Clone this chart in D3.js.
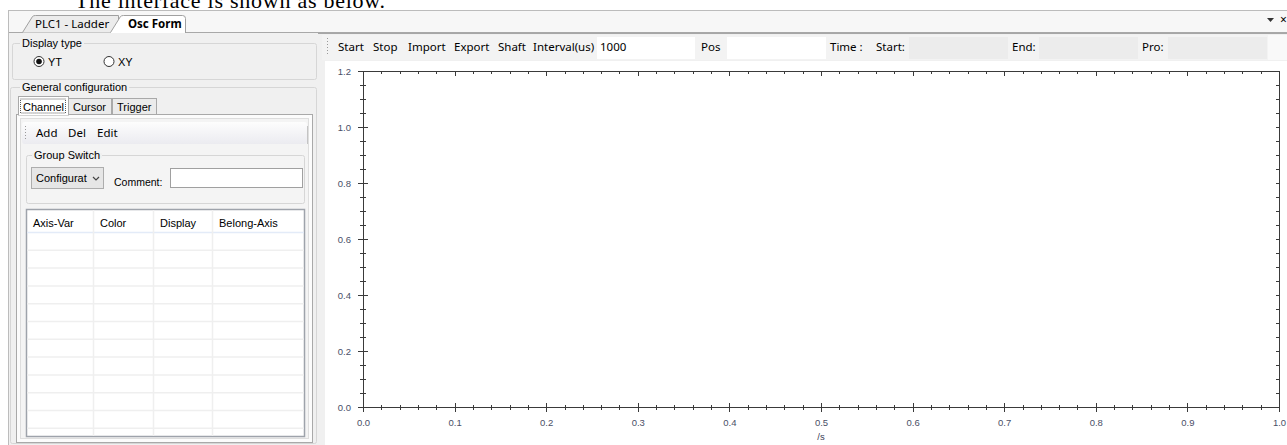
<!DOCTYPE html>
<html lang="en">
<head>
  <meta charset="UTF-8">
  <title>Osc Form</title>
  <style>
    body, html { margin: 0; padding: 0; background: #fff; }
    svg { display: block; }
    .ui { font-family: "Liberation Sans", Arial, sans-serif; font-size: 11px; fill: #000; }
    .tb { font-family: "Noto Sans", "Open Sans", sans-serif; font-size: 11px; fill: #000; }
    .axis .tick text { font-family: "Liberation Sans", Arial, sans-serif; font-size: 9.5px; fill: #4a4f66; }
    .axis path, .axis line { stroke: #3a3a3a; shape-rendering: crispEdges; }
  </style>
</head>
<body>
  <svg id="svg" width="1287" height="445"></svg>

  <script src="https://cdn.jsdelivr.net/npm/d3@7"></script>
  <script>
    // chart values
    const xTickValues = [0, 0.1, 0.2, 0.3, 0.4, 0.5, 0.6, 0.7, 0.8, 0.9, 1.0];
    const xTickLabels = ['0.0', '0.1', '0.2', '0.3', '0.4', '0.5', '0.6', '0.7', '0.8', '0.9', '1.0'];
    const yTickValues = [0, 0.2, 0.4, 0.6, 0.8, 1.0, 1.2];
    const yTickLabels = ['0.0', '0.2', '0.4', '0.6', '0.8', '1.0', '1.2'];
    const xUnit = '/s';

    // interface texts
    const caption = 'The interface is shown as below.';
    const docTabs = ['PLC1 - Ladder', 'Osc Form'];
    const displayTypes = ['YT', 'XY'];
    const configTabs = ['Channel', 'Cursor', 'Trigger'];
    const channelTools = ['Add', 'Del', 'Edit'];
    const tableColumns = ['Axis-Var', 'Color', 'Display', 'Belong-Axis'];
    const tableRowCount = 11;
    const toolbarItems = ['Start', 'Stop', 'Import', 'Export', 'Shaft', 'Interval(us)'];
    const intervalValue = '1000';
    const timeFields = ['Start:', 'End:', 'Pro:'];

    const svg = d3.select('#svg');

    // caption above the window (cut by the top edge, as in the screenshot)
    svg.append('text')
      .attr('x', 75).attr('y', 8)
      .attr('textLength', 310)
      .style('font-family', '"Liberation Serif", "Times New Roman", serif')
      .style('font-size', '22px')
      .text(caption);

    // window frame
    svg.append('rect')
      .attr('x', 8.5).attr('y', 10.5).attr('width', 1290).attr('height', 440)
      .attr('fill', '#f0f0f0').attr('stroke', '#bcbcbc');

    // tab strip
    svg.append('rect')
      .attr('x', 9).attr('y', 11).attr('width', 1278).attr('height', 21)
      .attr('fill', '#f7f7f7');
    svg.append('line')
      .attr('x1', 9).attr('x2', 1287).attr('y1', 32.5).attr('y2', 32.5)
      .attr('stroke', '#a8a8a8');

    // inactive tab
    svg.append('path')
      .attr('d', 'M22.5,32.5 L32.5,16.5 Q33.5,15.5 35.5,15.5 L118.5,15.5 L118.5,32.5')
      .attr('fill', '#ececec').attr('stroke', '#a0a0a0');
    // active tab
    svg.append('path')
      .attr('d', 'M110.5,32.5 L120.5,16.5 Q121.5,15.5 123.5,15.5 L182.5,15.5 Q185.5,15.5 185.5,18.5 L185.5,33')
      .attr('fill', '#fff').attr('stroke', '#a0a0a0');
    svg.append('line')
      .attr('x1', 111).attr('x2', 185).attr('y1', 32.5).attr('y2', 32.5)
      .attr('stroke', '#fff');

    svg.append('text').attr('class', 'tb')
      .attr('x', 35).attr('y', 28).style('font-size', '11.5px')
      .text(docTabs[0]);
    svg.append('text').attr('class', 'tb')
      .attr('x', 128).attr('y', 28).style('font-size', '11.5px').style('font-weight', 'bold')
      .text(docTabs[1]);

    // dropdown and close markers
    svg.append('path').attr('d', 'M1267,18 L1274,18 L1270.5,22 Z').attr('fill', '#333');
    svg.append('text').attr('class', 'tb').attr('x', 1280).attr('y', 24).style('font-size', '12px').text('×');

    // ---------- left panel ----------
    function groupBox(x, y, w, h, label, labelX) {
      svg.append('rect')
        .attr('x', x + 0.5).attr('y', y + 0.5).attr('width', w).attr('height', h)
        .attr('rx', 2)
        .attr('fill', 'none').attr('stroke', '#d6d6d6');
      const t = svg.append('text').attr('class', 'ui')
        .attr('x', labelX).attr('y', y + 4)
        .text(label);
      const bb = t.node().getBBox();
      svg.insert('rect', () => t.node())
        .attr('x', bb.x - 2).attr('y', y - 2).attr('width', bb.width + 4).attr('height', 5)
        .attr('fill', '#f0f0f0');
    }

    groupBox(12, 43, 304, 36, 'Display type', 22);
    groupBox(10, 87, 306, 356, 'General configuration', 22);

    // radio buttons
    const radioX = [39, 109];
    displayTypes.forEach((d, i) => {
      svg.append('circle')
        .attr('cx', radioX[i]).attr('cy', 61.5).attr('r', 5)
        .attr('fill', '#fff').attr('stroke', '#333');
      if (i === 0) {
        svg.append('circle').attr('cx', radioX[i]).attr('cy', 61.5).attr('r', 2.8).attr('fill', '#111');
      }
      svg.append('text').attr('class', 'ui')
        .attr('x', radioX[i] + 9).attr('y', 65.5)
        .text(d);
    });

    // config tabs
    const ctabX = [18, 68, 112];
    const ctabW = [50, 43, 44];
    // tab page
    svg.append('rect')
      .attr('x', 16.5).attr('y', 114.5).attr('width', 296).attr('height', 328)
      .attr('fill', '#fcfcfc').attr('stroke', '#a9a9a9');
    svg.append('rect')
      .attr('x', 20.5).attr('y', 118.5).attr('width', 288).attr('height', 320)
      .attr('fill', '#f4f4f4').attr('stroke', '#dedede');

    configTabs.forEach((d, i) => {
      const active = i === 0;
      svg.append('rect')
        .attr('x', ctabX[i] + 0.5).attr('y', active ? 96.5 : 98.5)
        .attr('width', ctabW[i]).attr('height', active ? 18.5 : 16)
        .attr('fill', active ? '#fff' : '#ebebeb').attr('stroke', '#a9a9a9');
      const t = svg.append('text').attr('class', 'ui')
        .attr('x', ctabX[i] + 5).attr('y', 110.5)
        .text(d);
      if (active) {
        const bb = t.node().getBBox();
        svg.append('rect')
          .attr('x', bb.x - 2.5).attr('y', bb.y - 1.5)
          .attr('width', bb.width + 4).attr('height', bb.height + 2)
          .attr('fill', 'none').attr('stroke', '#555').attr('stroke-dasharray', '1,1');
      }
    });
    svg.append('line')
      .attr('x1', 19).attr('x2', 68).attr('y1', 114.5).attr('y2', 114.5)
      .attr('stroke', '#fff');

    // channel toolbar
    const grad = svg.append('defs').append('linearGradient')
      .attr('id', 'tbgrad').attr('x1', 0).attr('x2', 0).attr('y1', 0).attr('y2', 1);
    grad.append('stop').attr('offset', '0%').attr('stop-color', '#fdfdfd');
    grad.append('stop').attr('offset', '100%').attr('stop-color', '#ebebf0');
    svg.append('rect')
      .attr('x', 22).attr('y', 122).attr('width', 285).attr('height', 22).attr('rx', 3)
      .attr('fill', 'url(#tbgrad)');
    svg.append('line')
      .attr('x1', 307.5).attr('x2', 307.5).attr('y1', 126).attr('y2', 144)
      .attr('stroke', '#c4c4c4');
    [126, 129, 132, 135, 138].forEach(yy => {
      svg.append('rect').attr('x', 25).attr('y', yy).attr('width', 1).attr('height', 1).attr('fill', '#9a9a9a');
    });
    const toolX = [36, 68, 97];
    channelTools.forEach((d, i) => {
      svg.append('text').attr('class', 'tb')
        .attr('x', toolX[i]).attr('y', 137).style('font-size', '11.5px')
        .text(d);
    });

    // group switch
    groupBox(26, 155, 278, 48, 'Group Switch', 34);
    svg.append('rect')
      .attr('x', 31.5).attr('y', 167.5).attr('width', 72).attr('height', 21)
      .attr('fill', '#e6e6e6').attr('stroke', '#adadad');
    svg.append('text').attr('class', 'ui')
      .attr('x', 36).attr('y', 182).text('Configurat');
    svg.append('path').attr('d', 'M93,177 L96,180 L99,177')
      .attr('fill', 'none').attr('stroke', '#444').attr('stroke-width', 1.2);
    svg.append('text').attr('class', 'ui')
      .attr('x', 114).attr('y', 186).style('font-size', '10.5px').text('Comment:');
    svg.append('rect')
      .attr('x', 170.5).attr('y', 168.5).attr('width', 132).attr('height', 19)
      .attr('fill', '#fff').attr('stroke', '#a0a0a0');

    // channel table
    const colStart = [26, 93, 153, 212];
    svg.append('rect')
      .attr('x', 26.5).attr('y', 209.5).attr('width', 278).attr('height', 227)
      .attr('fill', '#fff').attr('stroke', '#9ea3ab').attr('stroke-width', 1.5);
    const rowScale = d3.scaleLinear().domain([0, 1]).range([232.5, 250.3]);
    svg.append('line')
      .attr('x1', 27).attr('x2', 304).attr('y1', 232.5).attr('y2', 232.5)
      .attr('stroke', '#e3ebf8').attr('stroke-width', 1.5);
    d3.range(1, tableRowCount + 1).forEach(r => {
      svg.append('line')
        .attr('x1', 27).attr('x2', 304).attr('y1', rowScale(r)).attr('y2', rowScale(r))
        .attr('stroke', '#efefef').attr('stroke-width', 1.5);
    });
    colStart.slice(1).forEach(cx => {
      svg.append('line')
        .attr('x1', cx + 0.5).attr('x2', cx + 0.5).attr('y1', 210).attr('y2', 436)
        .attr('stroke', '#efefef').attr('stroke-width', 1.5);
    });
    tableColumns.forEach((d, i) => {
      svg.append('text').attr('class', 'ui')
        .attr('x', colStart[i] + 7).attr('y', 227)
        .text(d);
    });

    // ---------- right panel ----------
    svg.append('rect')
      .attr('x', 320).attr('y', 33).attr('width', 967).attr('height', 412)
      .attr('fill', '#f0f0f0');
    svg.append('line')
      .attr('x1', 318).attr('x2', 1287).attr('y1', 33.5).attr('y2', 33.5)
      .attr('stroke', '#a6a6a6');
    // plot background
    svg.append('rect')
      .attr('x', 325).attr('y', 61).attr('width', 962).attr('height', 384)
      .attr('fill', '#fff');
    // toolbar
    svg.append('rect')
      .attr('x', 322).attr('y', 35).attr('width', 965).attr('height', 25)
      .attr('fill', '#f3f3f3');
    [38, 41, 44, 47, 50, 53].forEach(yy => {
      svg.append('rect').attr('x', 327).attr('y', yy).attr('width', 1).attr('height', 1).attr('fill', '#9a9a9a');
    });
    const toolbarX = [338, 373, 408, 454, 498, 533];
    toolbarItems.forEach((d, i) => {
      svg.append('text').attr('class', 'tb')
        .attr('x', toolbarX[i]).attr('y', 51).style('font-size', '11.5px')
        .text(d);
    });
    // input boxes
    svg.append('rect').attr('x', 597).attr('y', 37).attr('width', 98).attr('height', 22).attr('fill', '#fff');
    svg.append('text').attr('class', 'tb').attr('x', 600).attr('y', 51).style('font-size', '11.5px').text(intervalValue);
    svg.append('text').attr('class', 'tb').attr('x', 701).attr('y', 51).style('font-size', '11.5px').text('Pos');
    svg.append('rect').attr('x', 727).attr('y', 37).attr('width', 99).attr('height', 22).attr('fill', '#fff');
    svg.append('text').attr('class', 'tb').attr('x', 830).attr('y', 51).style('font-size', '11.5px').text('Time :');
    const fieldLabelX = [876, 1012, 1142];
    const fieldBoxX = [909, 1039, 1168];
    timeFields.forEach((d, i) => {
      svg.append('text').attr('class', 'tb')
        .attr('x', fieldLabelX[i]).attr('y', 51).style('font-size', '11.5px')
        .text(d);
      svg.append('rect')
        .attr('x', fieldBoxX[i]).attr('y', 37).attr('width', 99).attr('height', 22)
        .attr('fill', '#ececec');
    });
    svg.append('rect').attr('x', 1268).attr('y', 35).attr('width', 19).attr('height', 25).attr('fill', '#f9f9f9');

    // ---------- chart ----------
    const x = d3.scaleLinear().domain([0, 1]).range([363, 1279]);
    const y = d3.scaleLinear().domain([0, 1.2]).range([407, 71]);

    function cross(g, dir, half) {
      // ticks that cross the axis line
      g.selectAll('.tick line').attr(dir + '1', -half).attr(dir + '2', half);
    }

    // bottom: minor then major
    svg.append('g').attr('class', 'axis')
      .attr('transform', `translate(0,${y(0)})`)
      .call(d3.axisBottom(x).tickValues(x.ticks(50)).tickFormat('').tickSizeOuter(0))
      .call(g => cross(g, 'y', 2.5));
    svg.append('g').attr('class', 'axis')
      .attr('transform', `translate(0,${y(0)})`)
      .call(d3.axisBottom(x).tickValues(xTickValues)
        .tickFormat((d, i) => xTickLabels[i]).tickSize(5).tickPadding(7).tickSizeOuter(0))
      .call(g => cross(g, 'y', 4.5));

    // left: minor then major
    svg.append('g').attr('class', 'axis')
      .attr('transform', `translate(${x(0)},0)`)
      .call(d3.axisLeft(y).tickValues(y.ticks(24)).tickFormat('').tickSizeOuter(0))
      .call(g => cross(g, 'x', 3));
    svg.append('g').attr('class', 'axis')
      .attr('transform', `translate(${x(0)},0)`)
      .call(d3.axisLeft(y).tickValues(yTickValues)
        .tickFormat((d, i) => yTickLabels[i]).tickSize(5).tickPadding(7).tickSizeOuter(0))
      .call(g => cross(g, 'x', 5));

    // top: ticks pointing into the plot
    svg.append('g').attr('class', 'axis')
      .attr('transform', `translate(0,${y(1.2)})`)
      .call(d3.axisBottom(x).tickValues(x.ticks(50)).tickFormat('').tickSize(3).tickSizeOuter(0));
    svg.append('g').attr('class', 'axis')
      .attr('transform', `translate(0,${y(1.2)})`)
      .call(d3.axisBottom(x).tickValues(xTickValues).tickFormat('').tickSize(5).tickSizeOuter(0));

    // right: ticks pointing into the plot
    svg.append('g').attr('class', 'axis')
      .attr('transform', `translate(${x(1)},0)`)
      .call(d3.axisLeft(y).tickValues(y.ticks(24)).tickFormat('').tickSize(3).tickSizeOuter(0));

    // unit label
    svg.append('text')
      .attr('x', x(0.5)).attr('y', 440)
      .attr('text-anchor', 'middle')
      .style('font-family', '"Liberation Sans", Arial, sans-serif')
      .style('font-size', '9.5px')
      .style('fill', '#3c4155')
      .text(xUnit);
  </script>
</body>
</html>
